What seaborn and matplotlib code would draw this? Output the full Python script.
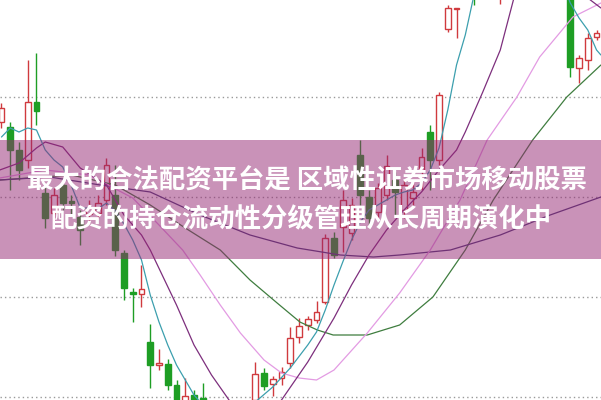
import numpy as np
import pandas as pd
import matplotlib
matplotlib.use("Agg")
import matplotlib.pyplot as plt
from matplotlib.patches import Rectangle
import seaborn as sns

# ---------------- data (prices) ----------------
opens = [12.75, 12.70, 12.47, 12.37, 12.95, 12.04, 11.84, 12.12, 11.96, 11.80,
         11.83, 11.84, 11.97, 12.02, 11.44, 11.05, 11.03, 10.55, 10.32, 10.33,
         10.12, 9.95, 10.02, 9.99, 9.67, 9.42, 9.57, 9.27, 9.52, 9.97,
         10.24, 10.13, 10.19, 10.34, 10.60, 10.72, 10.77, 10.95, 11.59, 11.70,
         11.64, 12.42, 12.00, 11.85, 12.02, 12.17, 11.87, 11.99, 12.27, 12.65,
         12.37, 13.68, 13.88, 14.05, 14.60, 14.30, 14.65, 14.50, 15.10, 15.30,
         15.10, 15.20, 14.90, 14.70, 14.60, 14.40, 13.29, 13.37, 13.60]
highs = [12.94, 12.75, 12.55, 13.37, 13.44, 12.12, 12.09, 12.19, 12.02, 11.87,
         11.97, 12.02, 12.39, 12.32, 11.47, 11.09, 11.32, 10.73, 10.48, 10.38,
         10.17, 10.19, 10.07, 10.14, 9.77, 9.67, 9.62, 9.57, 9.87, 10.35,
         10.29, 10.21, 10.30, 10.70, 10.79, 10.81, 10.96, 11.63, 11.65, 12.07,
         11.99, 12.57, 12.07, 12.14, 12.42, 12.25, 12.17, 12.17, 12.49, 12.72,
         13.05, 13.92, 13.89, 14.45, 14.70, 14.75, 15.00, 15.20, 15.40, 15.45,
         15.35, 15.30, 15.00, 14.85, 14.70, 14.45, 13.42, 13.64, 13.67]
lows = [12.69, 12.07, 12.17, 12.29, 12.72, 11.69, 11.77, 11.87, 11.82, 11.52,
        11.75, 11.79, 11.92, 11.41, 10.97, 10.75, 10.90, 10.09, 10.27, 10.07,
        9.82, 9.87, 9.79, 9.57, 9.32, 9.35, 9.17, 9.19, 9.47, 9.92,
        10.07, 10.01, 10.12, 10.29, 10.54, 10.67, 10.74, 10.93, 11.39, 11.45,
        11.57, 11.92, 11.72, 11.79, 11.97, 11.82, 11.79, 11.92, 12.07, 12.07,
        12.32, 13.65, 13.59, 14.00, 13.92, 14.10, 14.40, 13.93, 14.90, 14.95,
        14.80, 14.70, 14.50, 14.40, 14.30, 13.20, 13.14, 13.27, 13.57]
closes = [12.89, 12.47, 12.27, 12.95, 12.86, 11.79, 12.02, 11.94, 11.94, 11.67,
          11.89, 11.94, 12.32, 11.47, 11.09, 11.03, 11.08, 10.32, 10.34, 10.12,
          9.92, 10.01, 9.87, 9.67, 9.47, 9.57, 9.27, 9.52, 9.77, 10.23,
          10.11, 10.18, 10.25, 10.59, 10.71, 10.78, 10.85, 11.59, 11.42, 11.97,
          11.92, 12.02, 11.79, 12.09, 12.31, 12.05, 12.12, 12.05, 12.40, 12.37,
          13.02, 13.89, 13.89, 14.40, 14.30, 14.65, 14.95, 15.10, 15.30, 15.10,
          15.20, 14.90, 14.70, 14.60, 14.50, 13.30, 13.39, 13.59, 13.64]

ma5_x = [0, 1, 2, 3, 4, 5, 6, 7, 8, 9, 10, 11, 12, 13, 14, 15, 16, 17, 18, 19,
         20, 21, 22, 23, 25, 27, 29, 31, 33, 35, 36, 37, 38, 39, 40, 41, 42, 43,
         44, 45, 46, 47, 48, 49, 50, 51, 52, 53, 54, 56, 60, 63, 64, 65, 66, 67,
         68, 68.5]
ma5_y = [12.60, 12.69, 12.65, 12.69, 12.67, 12.47, 12.37, 12.30, 12.11, 11.89,
         11.89, 11.88, 11.94, 11.86, 11.73, 11.57, 11.37, 11.02, 10.75, 10.52,
         10.32, 10.17, 10.02, 9.92, 9.85, 9.85, 9.95, 10.10, 10.29, 10.52, 10.65,
         10.87, 11.12, 11.35, 11.57, 11.75, 11.87, 11.92, 11.97, 12.02, 12.05,
         12.07, 12.14, 12.27, 12.49, 12.87, 13.32, 13.62, 14.02, 14.57, 14.77,
         14.47, 14.17, 13.94, 13.79, 13.67, 13.47, 13.42]

ma10_x = [-0.2, 2, 4, 5, 7, 9, 12, 14, 16, 17, 20, 22, 24, 26, 28, 30, 32, 35,
          38, 40, 42, 44, 46, 48, 50, 52, 53, 55, 57, 58.5, 60, 63, 66, 67, 68.5]
ma10_y = [12.27, 12.34, 12.49, 12.55, 12.50, 12.29, 12.12, 11.82, 11.62, 11.47,
          10.92, 10.52, 10.22, 9.97, 9.79, 9.79, 9.97, 10.35, 10.79, 11.12,
          11.42, 11.67, 11.87, 12.05, 12.27, 12.47, 12.65, 13.05, 13.47, 13.97,
          14.37, 14.47, 14.09, 13.99, 13.89]

ma20_x = [-0.2, 5, 10, 15, 18, 20.7, 22.7, 25, 27.3, 30, 32, 34, 36, 38, 41.8,
          45.5, 49, 52.4, 55.5, 58.9, 61.5, 65.3, 68.5]
ma20_y = [12.19, 12.27, 12.22, 11.99, 11.72, 11.47, 11.22, 10.92, 10.64, 10.37,
          10.24, 10.19, 10.17, 10.27, 10.64, 11.04, 11.47, 11.97, 12.57, 13.00,
          13.40, 13.80, 13.94]

ma30_x = [-0.2, 5.5, 11.3, 17, 22.7, 28.4, 33.8, 38.7, 42.5, 45.5, 51.3, 57,
          62.7, 68.5]
ma30_y = [12.17, 12.20, 12.12, 12.05, 11.82, 11.62, 11.49, 11.42, 11.40, 11.42,
          11.47, 11.62, 11.82, 12.00]

ma60_x = [-0.2, 8, 13, 17, 21, 25, 28.4, 31.5, 34.1, 36.1, 37.9, 41.8, 45.5,
          49.3, 53, 56.2, 60.7, 64.6, 68.5]
ma60_y = [12.17, 12.22, 12.12, 11.92, 11.69, 11.47, 11.17, 10.94, 10.75, 10.67,
          10.62, 10.62, 10.72, 11.00, 11.47, 11.97, 12.57, 13.00, 13.32]

grid_levels = [10, 11, 12, 13]
title_line1 = "最大的合法配资平台是 区域性证券市场移动股票"
title_line2 = "配资的持仓流动性分级管理从长周期演化中"

# ---------------- style ----------------
sns.set_theme(style="white")
plt.rcParams['font.family'] = ['Noto Sans CJK SC', 'DejaVu Sans']

RED = "#d03a3e"
GREEN = "#1e9e24"

fig = plt.figure(figsize=(6.01, 4.00), dpi=100)
ax = fig.add_axes([0, 0, 1, 1])
ax.set_axis_off()

for g in grid_levels:
    ax.axhline(g, color="#9a9a9a", lw=1.0, ls=(0, (1, 2.2)), zorder=1)

df = pd.DataFrame({"o": opens, "h": highs, "l": lows, "c": closes})
df["i"] = np.arange(len(df))
up = df["c"] >= df["o"]
body_w = 0.64

for is_up, sub in ((True, df[up]), (False, df[~up])):
    col = RED if is_up else GREEN
    ax.vlines(sub["i"], sub["l"], sub["h"], color=col, lw=1.0, zorder=2)
    bottoms = np.minimum(sub["o"], sub["c"])
    heights = np.maximum(np.abs(sub["c"] - sub["o"]), 0.004)
    ax.bar(sub["i"], heights, bottom=bottoms, width=body_w,
           facecolor="white" if is_up else col, edgecolor=col,
           linewidth=1.0, zorder=3)

lines = [
    (ma60_x, ma60_y, "#3f7d3f"),
    (ma30_x, ma30_y, "#4a3f78"),
    (ma20_x, ma20_y, "#e39be3"),
    (ma10_x, ma10_y, "#7d2f7d"),
    (ma5_x, ma5_y, "#3c9fae"),
]
for xs, ys, col in lines:
    sns.lineplot(x=xs, y=ys, ax=ax, color=col, lw=0.9, estimator=None,
                 sort=False, zorder=4)

ax.set_xlim(-0.17, 68.51)
ax.set_ylim(9.97, 13.97)

# translucent band with caption
fig.add_artist(Rectangle((0, 1 - 259 / 400), 1, 119 / 400,
                         transform=fig.transFigure, facecolor=(0.58, 0.15, 0.45),
                         alpha=0.5, edgecolor="none", zorder=5))
fig.text(0.511, 1 - 181 / 400, title_line1, ha="center", va="center",
         color="white", fontsize=19, fontweight="bold", zorder=6)
fig.text(0.502, 1 - 220 / 400, title_line2, ha="center", va="center",
         color="white", fontsize=19, fontweight="bold", zorder=6)

fig.savefig("out.png", dpi=100)
